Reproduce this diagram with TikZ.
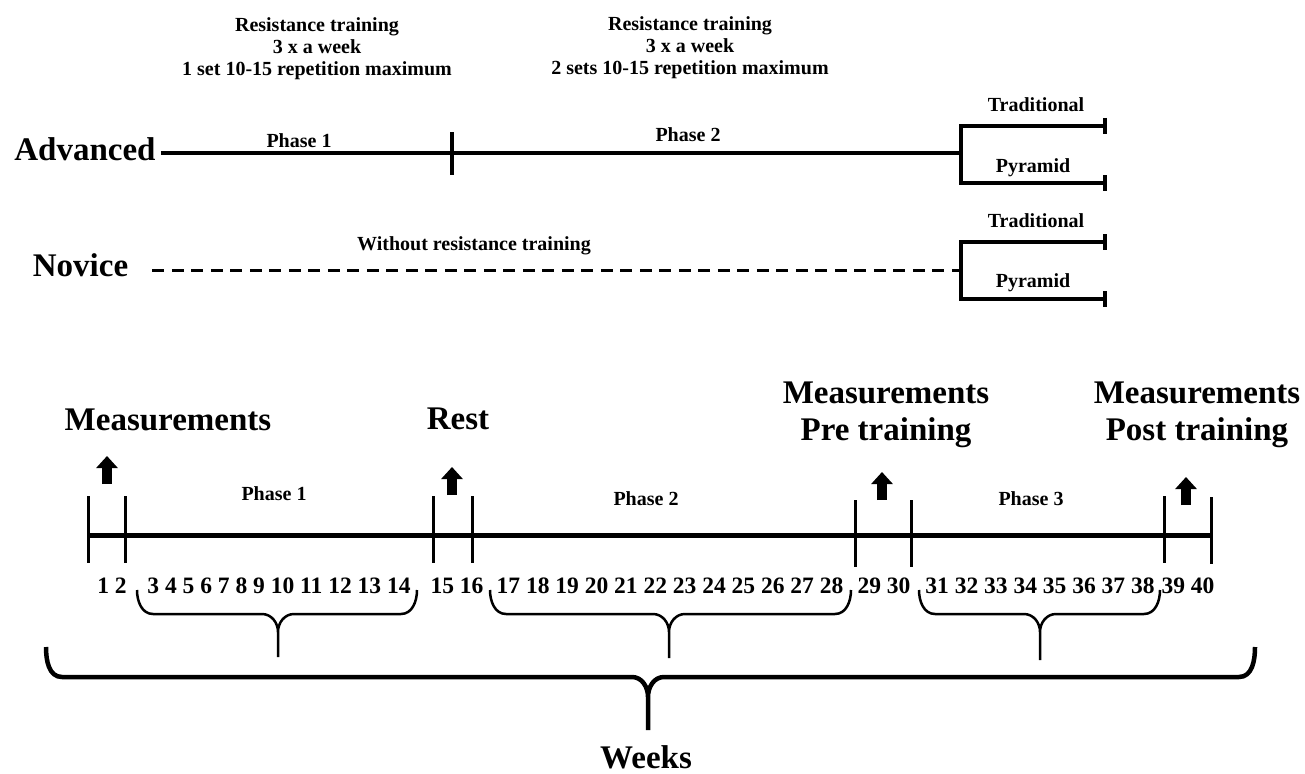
\documentclass[tikz,border=0pt]{standalone}
\usepackage{fontspec}
\setmainfont{Liberation Serif}
\usepackage{tikz}
\usetikzlibrary{positioning,arrows.meta}
\tikzset {
    style A/.style={
        font=\fontsize{20}{22}\selectfont\bfseries,
        inner sep=0pt,
        align=center,
        anchor=base,
    },
    style B/.style={
        font=\fontsize{23.5}{26}\selectfont\bfseries,
        inner sep=0pt,
        anchor=base,
    },
    style C/.style={
        font=\fontsize{33}{37}\selectfont\bfseries,
        inner sep=0pt,
        align=center,
        anchor=base,
    },
    style D/.style={
        line width=4pt,
    },
    style E/.style={
        line width=3pt,
        dash pattern=on 12pt off 7.5pt,
    },
    style F/.style={
        line width=10pt,
        -{Triangle[width=21pt,length=12pt]},
    },
    style G/.style={
        line width=2.5pt,
        line join=round,
    },
}

\begin{document}
\begin{tikzpicture}[x=1pt,y=1pt]
\useasboundingbox (0,0) rectangle (1305,-773);

% groups
\node[style A] (res1) at (317,-76) {Resistance training\\3 x a week\\1 set 10-15 repetition maximum};
\node[style A] (res2) at (690,-75) {Resistance training\\3 x a week\\2 sets 10-15 repetition maximum};
\node[style C] (adv) at (85,-160) {Advanced};
\node[style C] (nov) at (80.5,-276) {Novice};
\node[style A] (ph1a) at (299,-147) {Phase 1};
\node[style A] (ph2a) at (688,-141) {Phase 2};
\node[style A] (without) at (474,-250) {Without resistance training};
\node[style A] (tradA) at (1036,-111) {Traditional};
\node[style A] (pyrA) at (1033,-172) {Pyramid};
\node[style A] (tradN) at (1036,-227) {Traditional};
\node[style A] (pyrN) at (1033,-287) {Pyramid};
\coordinate (advFork) at (961,-153);
\coordinate (novFork) at (961,-270);

\draw[style D] ([shift={(5,7)}]adv.base east) -- (advFork);
\draw[style D] (452,-132) -- (452,-175);
\draw[style D] (1105,-126) -- (961,-126) -- (961,-183) -- (1105,-183);
\draw[style D] (1105,-118) -- (1105,-134) (1105,-175) -- (1105,-191);
\draw[style E] ([shift={(24,6)}]nov.base east) -- (novFork);
\draw[style D] (1105,-242) -- (961,-242) -- (961,-299) -- (1105,-299);
\draw[style D] (1105,-234) -- (1105,-250) (1105,-291) -- (1105,-307);

% timeline
\node[style C] (meas1) at (168,-430) {Measurements};
\node[style C] (rest) at (458,-429) {Rest};
\node[style C] (meas2) at (886,-440) {Measurements\\Pre training};
\node[style C] (meas3) at (1197,-440) {Measurements\\Post training};
\node[style A] (ph1b) at (274,-500) {Phase 1};
\node[style A] (ph2b) at (646,-505) {Phase 2};
\node[style A] (ph3b) at (1031,-505) {Phase 3};
\coordinate (up1) at (107,-484);
\coordinate (up2) at (452,-495);
\coordinate (up3) at (882,-500);
\coordinate (up4) at (1186,-505);
\draw[style F] (up1) -- ++(0,28);
\draw[style F] (up2) -- ++(0,28);
\draw[style F] (up3) -- ++(0,28);
\draw[style F] (up4) -- ++(0,28);

\draw[line width=5pt] (88,-535) -- (1211,-535);
\draw[line width=3pt] (88,-496) -- (88,-563) (125,-496) -- (125,-563) (433,-496) -- (433,-563) (472,-496) -- (472,-563)
    (855,-500) -- (855,-567) (911,-500) -- (911,-567) (1164,-496) -- (1164,-563) (1211,-497) -- (1211,-564);

\node[style B] (w1) at (112,-593) {1 2};
\node[style B] (w3) at (279,-593) {3 4 5 6 7 8 9 10 11 12 13 14};
\node[style B] (w15) at (457,-593) {15 16};
\node[style B] (w17) at (670,-593) {17 18 19 20 21 22 23 24 25 26 27 28};
\node[style B] (w29) at (884,-593) {29 30};
\node[style B] (w31) at (1040,-593) {31 32 33 34 35 36 37 38};
\node[style B] (w39) at (1188,-593) {39 40};

% braces
\draw[style G] (137,-590) to[out=-90,in=180] (153,-614) -- (262,-614) to[out=0,in=90] (278,-632) to[out=90,in=180] (294,-614) -- (401,-614) to[out=0,in=-90] (417,-590) (278,-632) -- (278,-657);
\draw[style G] (490,-590) to[out=-90,in=180] (506,-614) -- (653,-614) to[out=0,in=90] (669,-632) to[out=90,in=180] (685,-614) -- (835,-614) to[out=0,in=-90] (851,-590) (669,-632) -- (669,-658);
\draw[style G] (919,-590) to[out=-90,in=180] (935,-614) -- (1024,-614) to[out=0,in=90] (1040,-632) to[out=90,in=180] (1056,-614) -- (1144,-614) to[out=0,in=-90] (1160,-590) (1040,-632) -- (1040,-660);
\draw[line width=4.5pt, line join=round] (46,-647) to[out=-90,in=180] (62,-677) -- (632,-677) to[out=0,in=90] (648,-697) to[out=90,in=180] (664,-677) -- (1239,-677) to[out=0,in=-90] (1255,-647) (648,-697) -- (648,-730);
\node[style C] (weeks) at (646,-768) {Weeks};
\end{tikzpicture}
\end{document}
